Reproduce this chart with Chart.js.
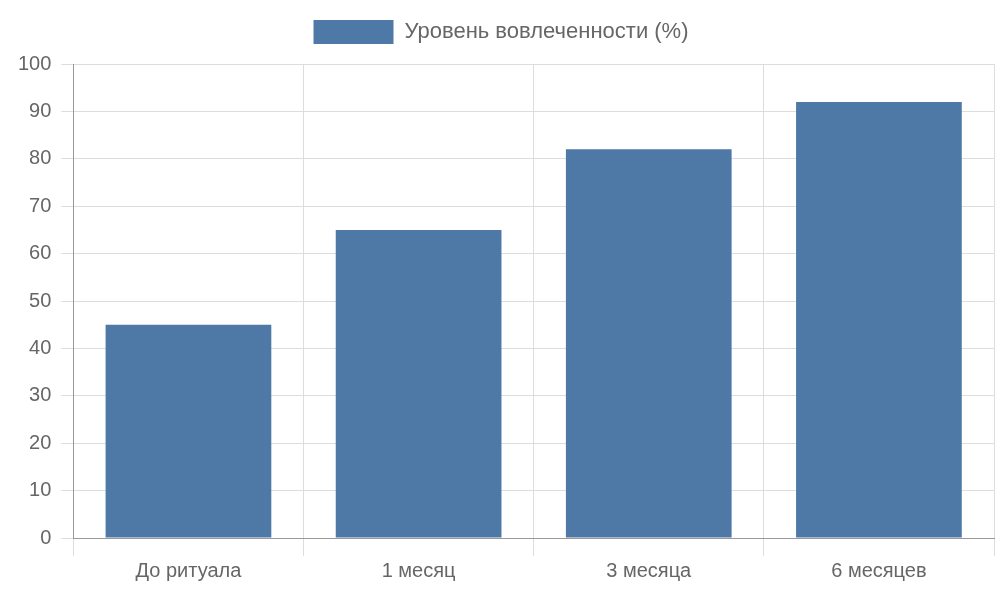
<!DOCTYPE html>
<html>
<head>
<meta charset="utf-8">
<script src="https://cdn.jsdelivr.net/npm/chart.js@4"></script>
<style>
  body { margin: 0; background: #fff; }
  #wrap { width: 1000px; height: 600px; }
</style>
</head>
<body>
<div id="wrap"><canvas id="chart"></canvas></div>
<script>
const categories = ["До ритуала", "1 месяц", "3 месяца", "6 месяцев"];
const engagement = [45, 65, 82, 92];
const seriesLabel = "Уровень вовлеченности (%)";

Chart.defaults.font.family = "'Liberation Sans', Arial, sans-serif";
Chart.defaults.color = "#666";

new Chart(document.getElementById("chart"), {
  type: "bar",
  data: {
    labels: categories,
    datasets: [{
      label: seriesLabel,
      data: engagement,
      backgroundColor: "#4e79a7"
    }]
  },
  options: {
    responsive: true,
    maintainAspectRatio: false,
    animation: false,
    layout: { padding: { left: 8, right: 6, top: 10, bottom: 14 } },
    plugins: {
      legend: {
        labels: { boxWidth: 80, boxHeight: 24, font: { size: 22 }, padding: 10 },
        // extra gap under legend
      },
      tooltip: { enabled: false }
    },
    scales: {
      x: {
        ticks: { font: { size: 20 } },
        grid: { color: "#ddd", tickLength: 18 },
        border: { color: "#999" }
      },
      y: {
        min: 0,
        max: 100,
        ticks: { stepSize: 10, font: { size: 20 }, padding: 10 },
        grid: { color: "#ddd", tickLength: 12 },
        border: { color: "#999" }
      }
    }
  },
  plugins: [{
    id: "legendGap",
    beforeInit(chart) {
      const fit = chart.legend.fit;
      chart.legend.fit = function () {
        fit.bind(chart.legend)();
        this.height += 10;
      };
    }
  }]
});
</script>
</body>
</html>
